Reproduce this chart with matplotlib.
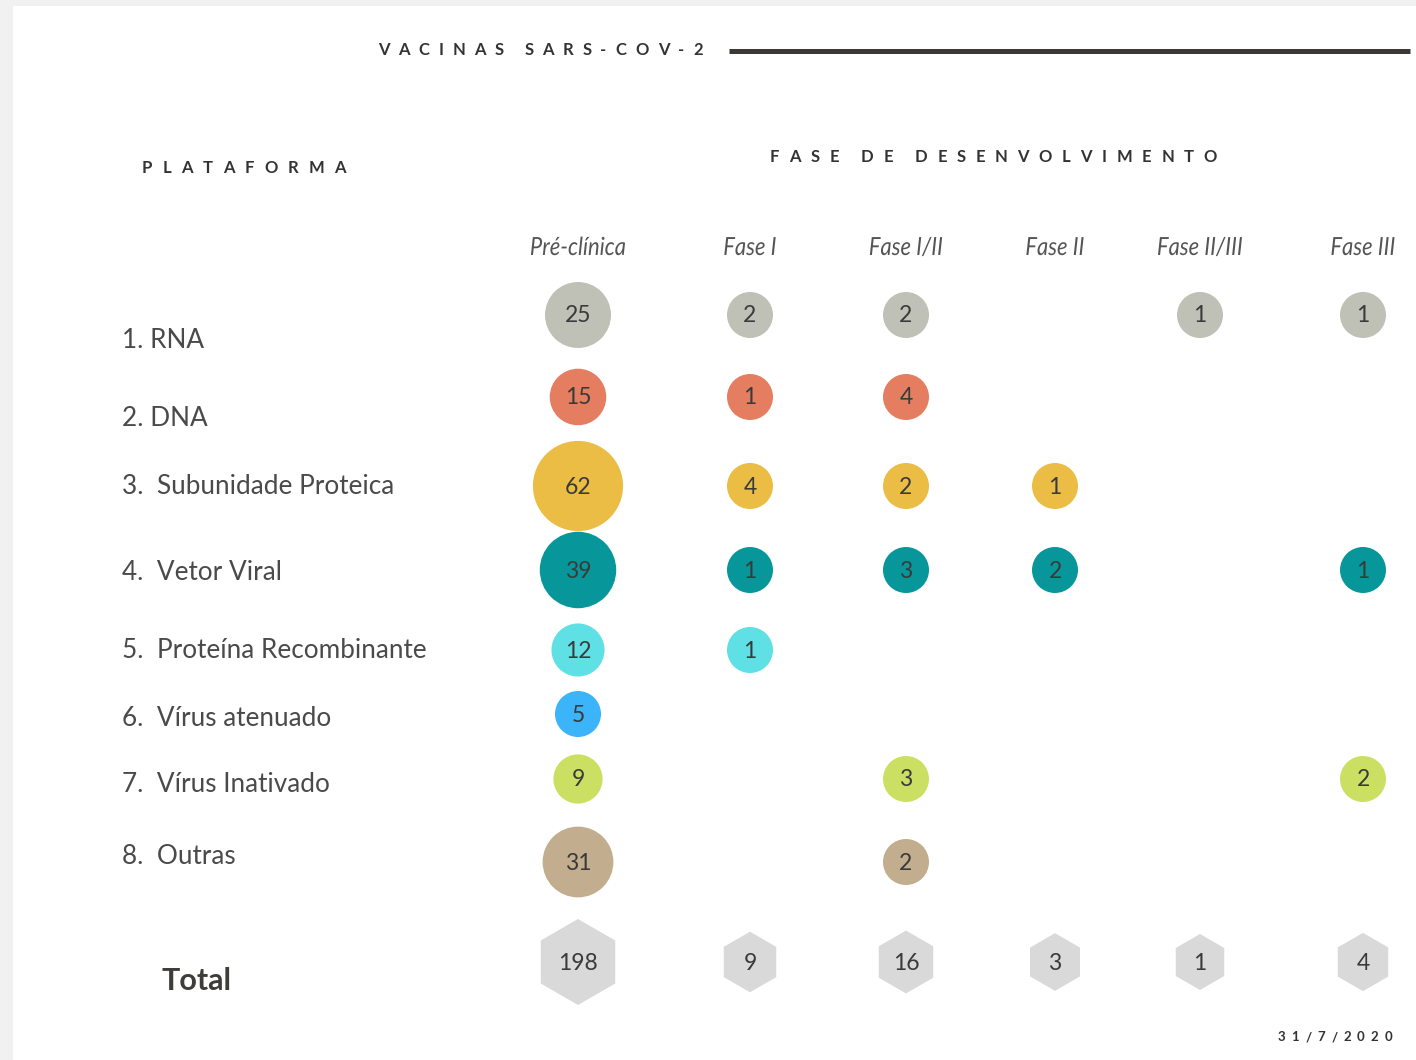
import numpy as np
import matplotlib
matplotlib.use("Agg")
from matplotlib import pyplot as plt
from matplotlib.patches import Circle, RegularPolygon, Rectangle, PathPatch
from matplotlib.textpath import TextPath
from matplotlib.font_manager import FontProperties
from matplotlib.transforms import Affine2D

plt.rcParams['font.family'] = ['Lato', 'DejaVu Sans']

# data
plataformas = ["1. RNA", "2. DNA", "3.  Subunidade Proteica", "4.  Vetor Viral",
               "5.  Proteína Recombinante", "6.  Vírus atenuado",
               "7.  Vírus Inativado", "8.  Outras"]
fases = ["Pré-clínica", "Fase I", "Fase I/II", "Fase II", "Fase II/III", "Fase III"]
cores = ["#bfc1b6", "#e57e60", "#ebbd45", "#07979b",
         "#5fe0e5", "#3cb4f9", "#cbe063", "#c2ae8e"]
rna = [25, 2, 2, None, 1, 1]
dna = [15, 1, 4, None, None, None]
subunidade = [62, 4, 2, 1, None, None]
vetor_viral = [39, 1, 3, 2, None, 1]
recombinante = [12, 1, None, None, None, None]
atenuado = [5, None, None, None, None, None]
inativado = [9, None, 3, None, None, 2]
outras = [31, None, 2, None, None, None]
tabela = [rna, dna, subunidade, vetor_viral, recombinante, atenuado, inativado, outras]
totais = [sum(l[j] or 0 for l in tabela) for j in range(len(fases))]

# layout (pixels)
W, H = 1416, 1060
col_x = [578, 750, 906, 1055, 1200, 1363]
row_y = [315, 397, 486, 570, 650, 714, 779, 862]
label_y = [340, 418, 487, 572, 651, 718, 784, 856]
total_y = 962
txt = "#3a3a3a"

fig = plt.figure(figsize=(W / 100, H / 100), dpi=100, facecolor="#f1f1f1")
ax = fig.add_axes([0, 0, 1, 1])
ax.set_xlim(0, W)
ax.set_ylim(H, 0)
ax.axis("off")
ax.add_patch(Rectangle((13, 6), W - 13, H - 6, facecolor="white", edgecolor="none"))
renderer = fig.canvas.get_renderer()


def tracked(x0, x1, y, s, size, **kw):
    # spread letters evenly between x0 and x1 (letter-spaced caps)
    objs, widths = [], []
    for ch in s:
        t = ax.text(0, y, ch, fontsize=size, va="center", ha="left", **kw)
        w = t.get_window_extent(renderer).width if ch != " " else size * 0.2
        objs.append(t)
        widths.append(w)
    gap = (x1 - x0 - sum(widths)) / (len(s) - 1)
    x = x0
    for t, w in zip(objs, widths):
        t.set_x(x)
        x += w + gap


def condensed(x, y, s, size, sx=0.88, color="#555555"):
    tp = TextPath((0, 0), s, size=size, prop=FontProperties(family="Lato", style="italic"))
    ext = tp.get_extents()
    tr = Affine2D().translate(-(ext.x0 + ext.x1) / 2, -size * 0.36).scale(sx, -1).translate(x, y)
    ax.add_patch(PathPatch(tr.transform_path(tp), facecolor=color, edgecolor="none"))


tracked(378, 703, 50, "VACINAS SARS-COV-2", 12, color="#333333", fontweight="bold")
ax.plot([729, 1410], [51, 51], color="#3c3934", lw=3.6, solid_capstyle="butt")
tracked(142, 346, 168, "PLATAFORMA", 12, color="#333333", fontweight="bold")
tracked(770, 1217, 157, "FASE DE DESENVOLVIMENTO", 12, color="#333333", fontweight="bold")
tracked(1278, 1392, 1037, "31/7/2020", 9.5, color="#333333", fontweight="bold")

for x, f in zip(col_x, fases):
    condensed(x, 246, f, 25)

for i, (nome, linha) in enumerate(zip(plataformas, tabela)):
    ax.text(122, label_y[i], nome, fontsize=18.8, color="#4a4a4a", va="center", ha="left")
    for j, v in enumerate(linha):
        if v is None:
            continue
        r = max(23, 12 + 4.2 * np.sqrt(v))
        ax.add_patch(Circle((col_x[j], row_y[i]), r, facecolor=cores[i], edgecolor="none"))
        ax.text(col_x[j], row_y[i] + 1, str(v), fontsize=16.5, color=txt, ha="center", va="center")

ax.text(162, 981, "Total", fontsize=22, fontweight="bold", color="#3f3d39", ha="left", va="center")
for j, v in enumerate(totais):
    R = 28 + 15 * (np.sqrt(v) - 1) / (np.sqrt(max(totais)) - 1)
    ax.add_patch(RegularPolygon((col_x[j], total_y), 6, radius=R,
                                facecolor="#d9d9d9", edgecolor="none"))
    ax.text(col_x[j], total_y + 1, str(v), fontsize=16.5, color=txt, ha="center", va="center")

fig.savefig("out.png", dpi=100, facecolor=fig.get_facecolor())
